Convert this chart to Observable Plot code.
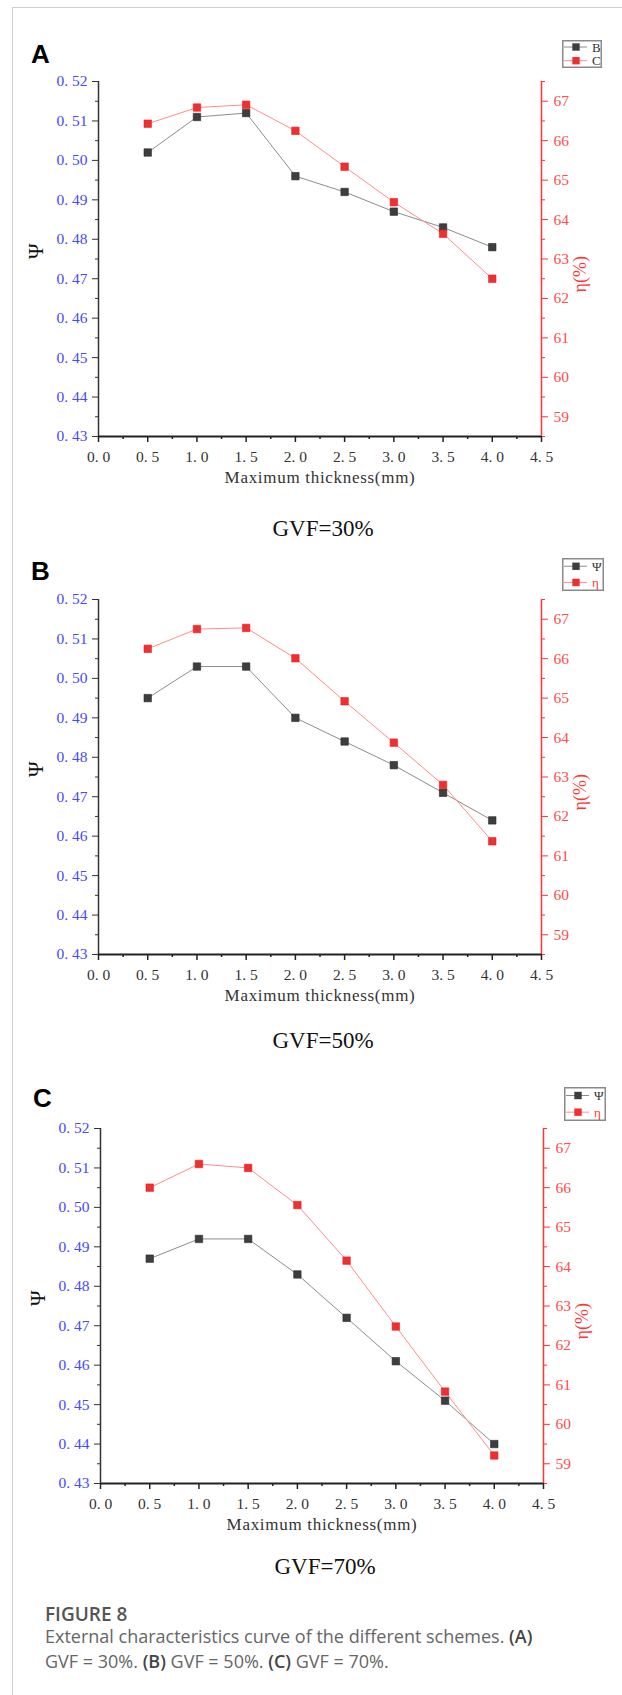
<!DOCTYPE html>
<html><head><meta charset="utf-8">
<script src="https://cdn.jsdelivr.net/npm/d3@7"></script>
<script src="https://cdn.jsdelivr.net/npm/@observablehq/plot@0.6"></script>
<style>
body{margin:0;background:#fff;}
#page{position:relative;width:622px;height:1695px;overflow:hidden;background:#fff;}
#frame{position:absolute;left:12px;top:7px;width:700px;height:1800px;border-left:1.5px solid #cfcfcf;border-top:1.5px solid #cfcfcf;}
.abs{position:absolute;white-space:nowrap;line-height:1;}
.panel{position:absolute;left:0;width:622px;height:500px;}
.panel svg{position:absolute;left:0;top:0;overflow:visible;}
</style></head><body><div id="page"><div id="frame"></div></div>
<script>
// ---- data ----
const thickness = [0.5, 1.0, 1.5, 2.0, 2.5, 3.0, 3.5, 4.0];
const psiA = [0.502, 0.511, 0.512, 0.496, 0.492, 0.487, 0.483, 0.478];
const etaA = [66.43, 66.84, 66.91, 66.25, 65.34, 64.44, 63.64, 62.50];
const psiB = [0.495, 0.503, 0.503, 0.490, 0.484, 0.478, 0.471, 0.464];
const etaB = [66.25, 66.75, 66.78, 66.01, 64.92, 63.87, 62.80, 61.37];
const psiC = [0.487, 0.492, 0.492, 0.483, 0.472, 0.461, 0.451, 0.440];
const etaC = [66.00, 66.60, 66.50, 65.56, 64.15, 62.48, 60.83, 59.21];
const panelLetters = ["A", "B", "C"];
const gvfTitles = ["GVF=30%", "GVF=50%", "GVF=70%"];
const legendNames = [["B", "C"], ["Ψ", "η"], ["Ψ", "η"]];
const xTicks = [0, 0.5, 1, 1.5, 2, 2.5, 3, 3.5, 4, 4.5];
const xMinor = [0.25, 0.75, 1.25, 1.75, 2.25, 2.75, 3.25, 3.75, 4.25];
const psiTicks = [0.43, 0.44, 0.45, 0.46, 0.47, 0.48, 0.49, 0.50, 0.51, 0.52];
const psiMinor = [0.435, 0.445, 0.455, 0.465, 0.475, 0.485, 0.495, 0.505, 0.515];
const etaTicks = [59, 60, 61, 62, 63, 64, 65, 66, 67];
const etaMinor = [58.5, 59.5, 60.5, 61.5, 62.5, 63.5, 64.5, 65.5, 66.5, 67.5];
const xTitle = "Maximum thickness(mm)";
const psiTitle = "Ψ";
const etaTitle = "η(%)";

// ---- layout ----
const layout = [
  {top: 0, left: 0, legW: 40, legH: 28, letterBase: 61, gvfBase: 535},
  {top: 518, left: 0, legW: 42, legH: 33, letterBase: 60, gvfBase: 529},
  {top: 1047, left: 2, legW: 42, legH: 34, letterBase: 58, gvfBase: 526}
];
const series = [[psiA, etaA], [psiB, etaB], [psiC, etaC]];

const toPsi = e => 0.43 + (e - 58.5) * 0.01;
const fromPsi = p => (p - 0.43) / 0.01 + 58.5;
const fmt = n => d => d.toFixed(n).replace(".", ". ");

const BLUE = "#4848ff", RED = "#ff3434", REDTXT = "#ff4c4c";
const TF = 15.5;
const page = document.getElementById("page");

layout.forEach((L, i) => {
  const [psi, eta] = series[i];
  const rows = thickness.map((t, k) => ({t, psi: psi[k], eta: eta[k]}));
  const panel = document.createElement("div");
  panel.className = "panel";
  panel.style.top = L.top + "px";
  panel.style.left = L.left + "px";
  page.appendChild(panel);

  const chart = Plot.plot({
    width: 622, height: 500,
    marginTop: 81, marginBottom: 64, marginLeft: 98, marginRight: 81,
    x: {domain: [0, 4.5]},
    y: {domain: [0.43, 0.52]},
    style: {fontFamily: "'Liberation Serif', serif", fontSize: "16px", color: "#333", background: "transparent"},
    marks: [
      Plot.axisX(xTicks, {tickSize: 6, tickPadding: 8, tickFormat: fmt(1), fontSize: TF, fill: "#333", stroke: "#222", strokeWidth: 1.5, label: null}),
      Plot.axisX(xMinor, {tickSize: 3, tickFormat: () => "", stroke: "#222", strokeWidth: 1.5, label: null}),
      Plot.axisY(psiTicks, {anchor: "left", tickSize: 6, tickPadding: 5, tickFormat: fmt(2), fontSize: TF, fill: BLUE, stroke: "#333", label: null}),
      Plot.axisY(psiMinor, {anchor: "left", tickSize: 3, tickFormat: () => "", stroke: "#333", label: null}),
      Plot.axisY(etaTicks.map(toPsi), {anchor: "right", tickSize: 6, tickPadding: 6, tickFormat: d => String(Math.round(fromPsi(d))), fontSize: TF, fill: REDTXT, stroke: RED, label: null}),
      Plot.axisY(etaMinor.map(toPsi), {anchor: "right", tickSize: 3, tickFormat: () => "", stroke: RED, label: null}),
      Plot.ruleX([0], {stroke: "#333", strokeWidth: 1.5}),
      Plot.ruleX([4.5], {stroke: RED, strokeWidth: 1.5}),
      Plot.ruleY([0.43], {stroke: "#222", strokeWidth: 2.2}),
      Plot.line(rows, {x: "t", y: "psi", stroke: "#8c8c8c", strokeWidth: 1}),
      Plot.line(rows, {x: "t", y: d => toPsi(d.eta), stroke: "#ff8c8c", strokeWidth: 1}),
      Plot.dot(rows, {x: "t", y: "psi", symbol: "square", r: 4.2, fill: "#3e3e3e", stroke: "#2a2a2a", strokeWidth: 0.6}),
      Plot.dot(rows, {x: "t", y: d => toPsi(d.eta), symbol: "square", r: 4.2, fill: "#f03030", stroke: "#e02020", strokeWidth: 0.6}),
      Plot.text([psiTitle], {frameAnchor: "left", dx: -62, rotate: -90, fontSize: 21, fill: "#111"}),
      Plot.text([etaTitle], {frameAnchor: "right", dx: 39, dy: -3, rotate: -90, fontSize: 18, fill: RED}),
      Plot.text([xTitle], {frameAnchor: "bottom", dy: 46, fontSize: 17, fill: "#333"})
    ]
  });
  chart.querySelectorAll("text").forEach(t => { if (t.textContent === xTitle) t.style.letterSpacing = "0.7px"; });
  panel.appendChild(chart);

  // panel letter
  const letter = document.createElement("div");
  letter.className = "abs";
  letter.textContent = panelLetters[i];
  letter.style.cssText += `left:31px;top:${L.letterBase - 0.847 * 26}px;font:bold 26px 'Liberation Sans',Arial,sans-serif;color:#000;`;
  panel.appendChild(letter);

  // GVF title
  const g = document.createElement("div");
  g.className = "abs";
  g.textContent = gvfTitles[i];
  g.style.cssText += `left:323px;transform:translateX(-50%);top:${L.gvfBase - 0.8375 * 23}px;font:23px 'Liberation Serif',serif;color:#111;`;
  panel.appendChild(g);

  // legend
  const leg = d3.create("svg").attr("width", L.legW).attr("height", L.legH)
    .style("left", "562px").style("top", "40px");
  leg.append("rect").attr("x", 0.75).attr("y", 0.75).attr("width", L.legW - 1.5).attr("height", L.legH - 1.5)
    .attr("fill", "#fff").attr("stroke", "#8a8a8a").attr("stroke-width", 1.5);
  const rowY = [L.legH * 0.25, L.legH * 0.74];
  const legLine = ["#8c8c8c", "#ff8c8c"], legFill = ["#3e3e3e", "#f03030"];
  const legText = i === 0 ? ["#333", "#333"] : ["#333", RED];
  legendNames[i].forEach((name, k) => {
    const gg = leg.append("g").attr("transform", `translate(0,${rowY[k]})`);
    gg.append("line").attr("x1", 2).attr("x2", 25).attr("stroke", legLine[k]).attr("stroke-width", 1);
    gg.append("rect").attr("x", 14 - 3.7).attr("y", -3.7).attr("width", 7.4).attr("height", 7.4).attr("fill", legFill[k]);
    gg.append("text").attr("x", 30).attr("dy", "0.35em").attr("font-family", "'Liberation Serif',serif")
      .attr("font-size", 13).attr("fill", legText[k]).text(name);
  });
  panel.appendChild(leg.node());
});

// caption
const cap1 = document.createElement("div");
cap1.className = "abs";
cap1.textContent = "FIGURE 8";
cap1.style.cssText += `left:45px;top:${1618 - 0.888 * 19}px;font:600 19px 'Open Sans',sans-serif;color:#555;`;
page.appendChild(cap1);
const cap2 = document.createElement("div");
cap2.className = "abs";
cap2.style.cssText += "left:45px;top:1624px;font:18px/25px 'Open Sans',sans-serif;color:#666;";
cap2.innerHTML = "External characteristics curve of the different schemes. <b style='color:#444;font-weight:600'>(A)</b><br>GVF = 30%. <b style='color:#444;font-weight:600'>(B)</b> GVF = 50%. <b style='color:#444;font-weight:600'>(C)</b> GVF = 70%.";
page.appendChild(cap2);
</script>
</body></html>
